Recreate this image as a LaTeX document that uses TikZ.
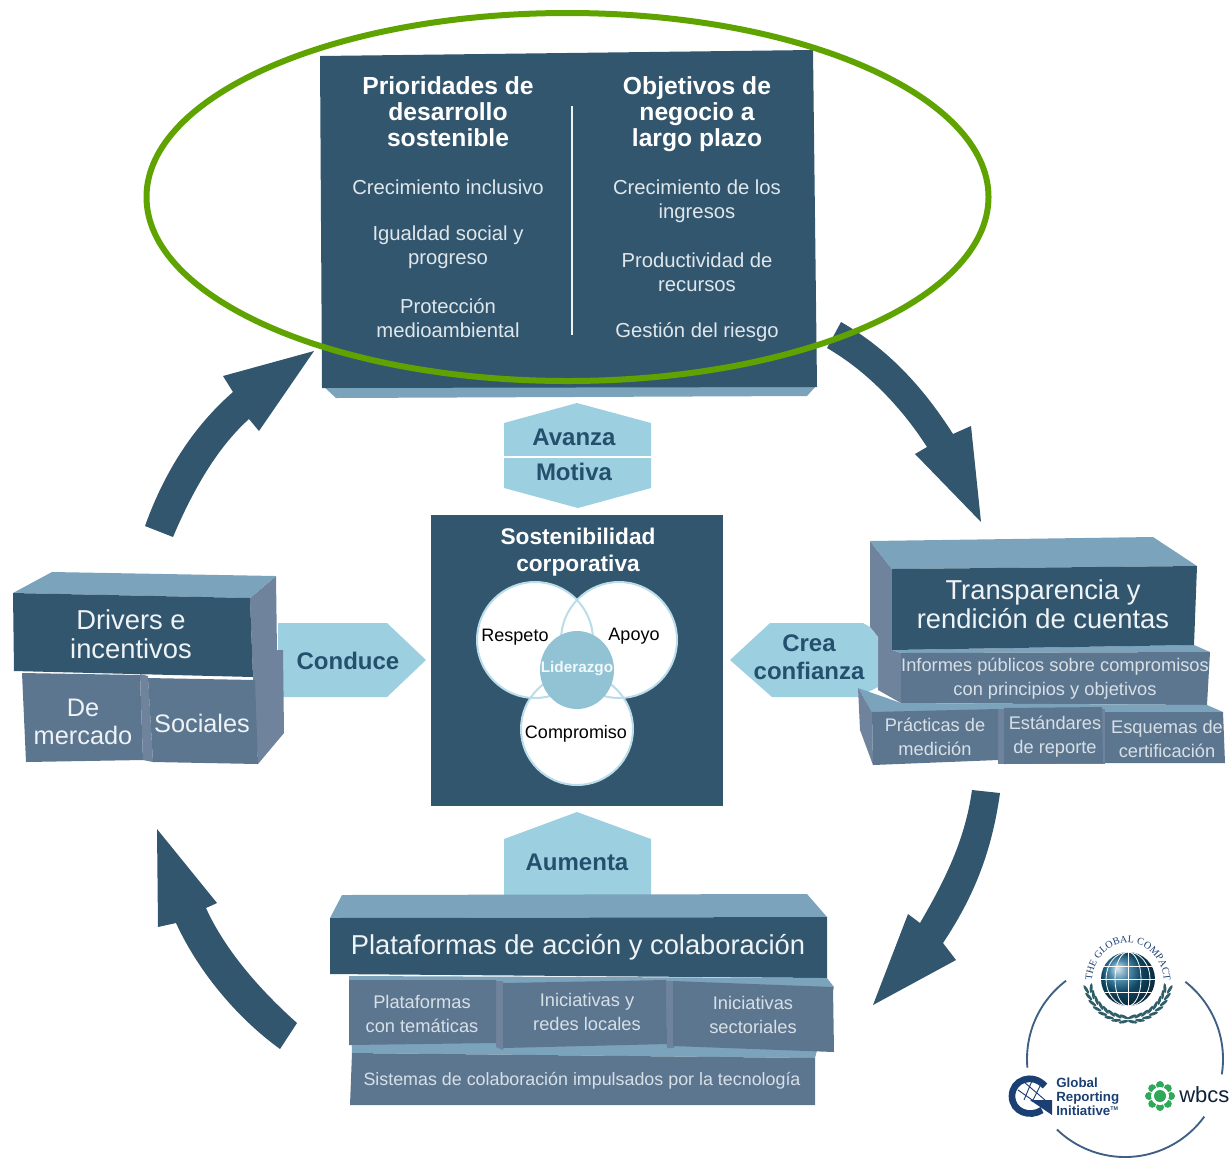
\documentclass[tikz,border=0pt]{standalone}
\usepackage{fontspec}
\setmainfont{Liberation Sans}
\newfontfamily\serifgc{Liberation Serif}
\usetikzlibrary{decorations.text}
\definecolor{navy}{HTML}{33566F}
\definecolor{midface}{HTML}{5D7690}
\definecolor{sideface}{HTML}{70839C}
\definecolor{topface}{HTML}{7BA3BB}
\definecolor{hexblue}{HTML}{9CCFE0}
\definecolor{labelblue}{HTML}{24506E}
\definecolor{ringgreen}{HTML}{5FA300}
\definecolor{softwhite}{HTML}{EEF3F6}
\definecolor{griblue}{HTML}{1C3F73}
\definecolor{logoring}{HTML}{3F5F85}
\definecolor{wbgreen}{HTML}{2FA85A}
\definecolor{wreath}{HTML}{2F5D68}
\tikzset{
  x=.75pt,y=-.75pt,
  navyface/.style={fill=navy},
  midf/.style={fill=midface},
  sidef/.style={fill=sideface},
  topf/.style={fill=topface},
  hexf/.style={fill=hexblue},
  cyclearrow/.style={fill=navy},
  txt/.style={align=center,inner sep=0pt,text=softwhite},
  h1/.style={txt,font=\fontsize{20.5}{21.5}\selectfont},
  h2/.style={txt,font=\fontsize{19}{21}\selectfont},
  body/.style={txt,font=\fontsize{15.2}{18}\selectfont,text=softwhite!92!navy},
  small/.style={txt,font=\fontsize{13.7}{18}\selectfont,text=softwhite!88!navy},
  headb/.style={txt,font=\bfseries\fontsize{18.5}{19.6}\selectfont,text=white},
  verb/.style={txt,font=\bfseries\fontsize{18}{21}\selectfont,text=labelblue},
  venn/.style={txt,font=\fontsize{13.5}{16}\selectfont,text=black},
  vennc/.style={fill=white},
  vennline/.style={draw=hexblue!70,line width=1.5pt},
  leaf/.style={fill=wreath},
}
\begin{document}
\begin{tikzpicture}
\useasboundingbox (0,0) rectangle (1230,1158);
% cycle arrows
\fill[cyclearrow] (173,537) .. controls (195,485) and (220,445) .. (249,419) -- (259,431) -- (314,351) -- (223,376) -- (233,392) .. controls (195,425) and (165,470) .. (145,526) -- cycle;
\fill[cyclearrow] (841,322) .. controls (890,350) and (925,390) .. (953,434) -- (971,426) -- (981,522) -- (915,454) -- (927,447) .. controls (900,405) and (865,370) .. (827,348) -- cycle;
\fill[cyclearrow] (1000,793) .. controls (992,850) and (975,895) .. (943,943) -- (956,960) -- (873,1005) -- (908,914) -- (920,923) .. controls (945,880) and (965,840) .. (972,790) -- cycle;
\fill[cyclearrow] (297,1023) .. controls (260,990) and (225,950) .. (206,908) -- (217,903) -- (157,829) -- (158,927) -- (176,923) .. controls (200,975) and (240,1020) .. (280,1049) -- cycle;
% top panel
\fill[topf] (322,385) -- (817,385) -- (807,396) -- (336,398) -- cycle;
\fill[navyface] (320,56) -- (813,50) -- (817,387) -- (322,388) -- cycle;
\draw[softwhite,line width=1.5pt] (572,106) -- (572,335);
\node[headb] (prio) at (448,111.5) {Prioridades de\\desarrollo\\sostenible};
\node[headb] (obj) at (697,114) {Objetivos de\\negocio a\\largo plazo};
\node[body] (p1) at (448,187) {Crecimiento inclusivo};
\node[body] (p2) at (448,247) {Igualdad social y\\progreso};
\node[body] (p3) at (448,318) {Protección\\medioambiental};
\node[body] (o1) at (697,201) {Crecimiento de los\\ingresos};
\node[body] (o2) at (697,272) {Productividad de\\recursos};
\node[body] (o3) at (697,332) {Gestión del riesgo};
% hexagon
\fill[hexf] (577,403) -- (651,423) -- (651,488) -- (578,508) -- (504,488) -- (504,423) -- cycle;
\draw[white,line width=1.5pt] (504,457) -- (651,457);
\node[verb] (avanza) at (574,437) {Avanza};
\node[verb] (motiva) at (574,472) {Motiva};
% centre
\fill[navyface] (431,515) rectangle (723,806);
\node[headb,font=\bfseries\fontsize{17}{20}\selectfont] (sost) at (578,552) {Sostenibilidad\\corporativa};
\fill[vennc] (535,640) circle[radius=58];
\fill[vennc] (619,640) circle[radius=58];
\fill[vennc] (577,729) circle[radius=56];
\draw[vennline] (535,640) circle[radius=58];
\draw[vennline] (619,640) circle[radius=58];
\draw[vennline] (577,729) circle[radius=56];
\fill[hexblue!90!navy] (577,670) ellipse[x radius=37,y radius=39];
\node[venn] (respeto) at (515,637) {Respeto};
\node[venn] (apoyo) at (634,636) {Apoyo};
\node[venn] (comp) at (576,734) {Compromiso};
\node[txt,font=\fontsize{11.5}{14}\selectfont\bfseries,text=white!85!hexblue] (lid) at (577,669) {Liderazgo};
% left block
\fill[hexf] (278,623) -- (387,623) -- (426,660) -- (387,697) -- (278,697) -- cycle;
\node[verb] (conduce) at (348,661) {Conduce};
\fill[sidef] (140,674) -- (148,676) -- (153,762) -- (143,760) -- cycle;
\fill[sidef] (253,677) -- (277,650) -- (283,650) -- (284,733) -- (258,764) -- cycle;
\fill[midf] (22,673) -- (140,675) -- (143,760) -- (26,762) -- cycle;
\fill[midf] (148,678) -- (255,680) -- (258,764) -- (153,762) -- cycle;
\fill[sidef] (276,576) -- (277,653) -- (253,677) -- (250,598) -- cycle;
\fill[topf] (13,593) -- (52,572) -- (276,576) -- (250,598) -- cycle;
\fill[navyface] (13,593) -- (250,598) -- (253,677) -- (14,671) -- cycle;
\node[h1] (drivers) at (131,634.5) {Drivers e\\incentivos};
\node[h2] (mercado) at (83,722) {De\\mercado};
\node[h2] (sociales) at (202,723) {Sociales};
% right block
\fill[sidef] (870,541) -- (892,569) -- (892,650) -- (901,653) -- (901,703) -- (878,690) -- (878,637) -- (870,627) -- cycle;
\fill[hexf] (730,660) -- (770,623) -- (863,623) -- (870,627) -- (878,637) -- (878,687) -- (858,697) -- (772,697) -- cycle;
\node[verb] (crea) at (809,657) {Crea\\confianza};
\fill[topf] (870,541) -- (1153,537) -- (1197,566) -- (892,569) -- cycle;
\fill[topf] (892,650) -- (1194,645) -- (1210,652) -- (901,653) -- cycle;
\fill[navyface] (892,569) -- (1197,566) -- (1194,645) -- (892,650) -- cycle;
\node[h1] (transp) at (1043,604) {Transparencia y\\rendición de cuentas};
\fill[midf] (901,653) -- (1210,652) -- (1207,705) -- (901,703) -- cycle;
\node[small] (inf) at (1055,678.5) {Informes públicos sobre compromisos\\con principios y objetivos};
\fill[topf] (858,688) -- (901,703) -- (1207,705) -- (1223,712) -- (872,712) -- cycle;
\fill[sidef] (858,688) -- (872,712) -- (873,765) -- (860,730) -- cycle;
\fill[sidef] (998,709) -- (1105,709) -- (1105,764) -- (998,764) -- cycle;
\fill[midf] (872,712) -- (998,709) -- (998,760) -- (873,765) -- cycle;
\fill[midf] (1004,708) -- (1102,707) -- (1103,763) -- (1004,764) -- cycle;
\fill[midf] (1105,712) -- (1223,712) -- (1225,763) -- (1105,763) -- cycle;
\node[small] (prac) at (935,736.5) {Prácticas de\\medición};
\node[small] (est) at (1055,737) {Estándares\\de reporte};
\node[small] (esq) at (1167,738.5) {Esquemas de\\certificación};
% bottom block
\fill[hexf] (577,812) -- (651,839) -- (651,896) -- (504,896) -- (504,839) -- cycle;
\node[verb] (aumenta) at (577,862) {Aumenta};
\fill[topf] (342,895) -- (807,894) -- (827,917) -- (330,918) -- cycle;
\fill[navyface] (330,918) -- (827,917) -- (827,978) -- (330,974) -- cycle;
\node[h1] (plat) at (578,947) {Plataformas de acción y colaboración};
\fill[topf] (349,976) -- (827,978) -- (834,987) -- (815,1058) -- (352,1053) -- cycle;
\fill[sidef] (496,981) -- (503,981) -- (503,1050) -- (496,1047) -- cycle;
\fill[sidef] (666,981) -- (674,981) -- (674,1048) -- (667,1048) -- cycle;
\fill[midf] (349,980) -- (496,980) -- (496,1043) -- (349,1045) -- cycle;
\fill[midf] (503,983) -- (666,980) -- (667,1044) -- (503,1048) -- cycle;
\fill[midf] (673,981) -- (833,987) -- (834,1052) -- (673,1046) -- cycle;
\node[small] (pt) at (422,1013.5) {Plataformas\\con temáticas};
\node[small] (ir) at (587,1011.5) {Iniciativas y\\redes locales};
\node[small] (is) at (753,1014.5) {Iniciativas\\sectoriales};
\fill[midf] (352,1053) -- (815,1058) -- (815,1105) -- (350,1105) -- cycle;
\node[small,font=\fontsize{13.4}{18}\selectfont] (sis) at (582,1080.5) {Sistemas de colaboración impulsados por la tecnología};
% logo ring
\foreach \a/\b in {175/233,-52/9,36/134}
  \draw[logoring,line width=1.4pt] plot[domain=\a:\b,samples=30,smooth] ({1125+98*cos(\x)},{1059+98*sin(\x)});
% global compact
\shade[ball color=griblue!80!cyan] (1128,979) circle[radius=27];
\begin{scope}[white,line width=.6pt]
\clip (1128,979) circle[radius=27];
\draw (1128,952) -- (1128,1006);
\draw (1128,979) ellipse[x radius=13,y radius=27];
\draw (1128,979) ellipse[x radius=22,y radius=27];
\draw (1101,979) -- (1155,979);
\draw (1103,966) -- (1153,966);
\draw (1103,992) -- (1153,992);
\end{scope}
\path[decorate,decoration={text along path,text align=center,text color=griblue,text={|\serifgc\fontsize{7.6}{9}\selectfont|THE GLOBAL COMPACT}}] (1092,983) .. controls (1092,961) and (1108,943) .. (1128,943) .. controls (1148,943) and (1164,961) .. (1164,983);
\foreach \ang in {14,24,...,84} {
  \fill[leaf,shift={({1128+38*cos(\ang)},{979+38*sin(\ang)})},rotate={-\ang-90+18}] (0,0) ellipse[x radius=5,y radius=1.5];
  \fill[leaf,shift={({1128+43*cos(\ang)},{979+43*sin(\ang)})},rotate={-\ang-90-18}] (0,0) ellipse[x radius=5,y radius=1.5];
  \fill[leaf,shift={({1128+38*cos(180-\ang)},{979+38*sin(180-\ang)})},rotate={\ang+90-18}] (0,0) ellipse[x radius=5,y radius=1.5];
  \fill[leaf,shift={({1128+43*cos(180-\ang)},{979+43*sin(180-\ang)})},rotate={\ang+90+18}] (0,0) ellipse[x radius=5,y radius=1.5];
}
% GRI
\draw[griblue,line width=5pt] (1045,1086) .. controls (1032,1072) and (1012,1080) .. (1012,1096) .. controls (1012,1112) and (1030,1118) .. (1042,1110);
\fill[griblue] (1030,1100) -- (1052,1100) -- (1052,1115) -- cycle;
\begin{scope}[griblue,line width=.7pt]
\draw (1024,1082) -- (1045,1100) (1018,1090) -- (1038,1104) (1034,1076) -- (1024,1100) (1042,1082) -- (1032,1102);
\end{scope}
\node[anchor=west,align=left,inner sep=0pt,text=griblue,font=\bfseries\fontsize{10}{10.4}\selectfont] (gri) at (1056,1097) {Global\\Reporting\\Initiative\textsuperscript{\fontsize{4}{4}\selectfont TM}};
% wbcs
\foreach \ang in {0,45,...,315}
  \fill[wbgreen] ({1160+11*cos(\ang)},{1096+11*sin(\ang)}) circle[radius=4];
\fill[white] (1160,1096) circle[radius=9];
\fill[wbgreen] (1160,1096) circle[radius=6];
\node[anchor=west,inner sep=0pt,text=griblue!50!black,font=\fontsize{16.5}{18}\selectfont] (wbcs) at (1179,1095) {wbcs};
% green ellipse
\draw[ringgreen,line width=4.5pt] (567.5,197) ellipse[x radius=421,y radius=184];
\end{tikzpicture}
\end{document}
